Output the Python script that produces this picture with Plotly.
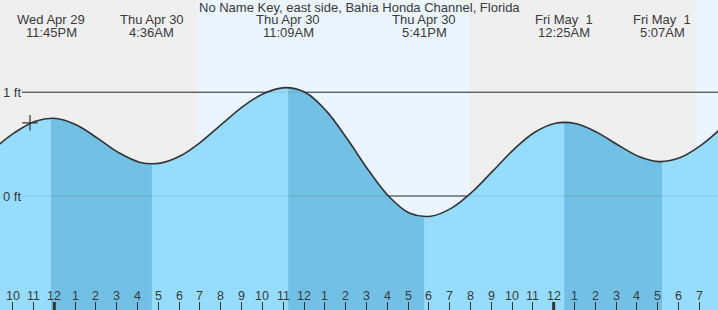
import plotly.graph_objects as go

# ---------------- data ----------------
TITLE = "No Name Key, east side, Bahia Honda Channel, Florida"

# hourly tide height (ft), hours relative to midnight Apr 30 (0 = 12AM Thu Apr 30)
HOURS = list(range(-3, 33))
HEIGHTS = [0.454, 0.61, 0.72,
           0.747, 0.682, 0.555, 0.418, 0.326, 0.317, 0.390, 0.528, 0.700, 0.866, 0.990, 1.044,
           0.994, 0.815, 0.546, 0.250, -0.007, -0.167, -0.195, -0.117, 0.041, 0.244, 0.450, 0.614,
           0.701, 0.696, 0.613, 0.491, 0.381, 0.331, 0.37, 0.49, 0.66]

# high / low tide events
EVENT_T = [-0.25, 4.60, 11.15, 17.683, 24.417, 29.117]
EVENT_H = [0.75, 0.31, 1.045, -0.20, 0.71, 0.33]
EVENT_DAY = ["Wed Apr 29", "Thu Apr 30", "Thu Apr 30", "Thu Apr 30", "Fri May\u00a0 1", "Fri May\u00a0 1"]
EVENT_TIME = ["11:45PM", "4:36AM", "11:09AM", "5:41PM", "12:25AM", "5:07AM"]
EVENT_TYPE = ["H", "L", "H", "L", "H", "L"]

# sunrise / sunset (hours)
SUN_T = [6.77, 19.84, 30.75]          # sunrise, sunset, sunrise
NOW_T, NOW_H = -1.26, 0.705           # current-time marker

HOUR_TICKS = list(range(-2, 32))
HOUR_LABELS = [str(((h % 24) % 12) or 12) for h in HOUR_TICKS]
Y_TICKS = [0, 1]
Y_LABELS = ["0 ft", "1 ft"]

# ---------------- style ----------------
W, H = 718, 310
X_RANGE = [-2.701, 31.808]
Y_RANGE = [-1.098, 1.888]
TICK_OFFSET = -0.09
BASE = -2.0
NIGHT = "#efefef"
DAY = "#ebf5ff"
LIGHT = "#96dcfd"
DARK = "#72c0e4"
INK = "#333333"
TEXT = "#3a3a3a"
FONT = "Liberation Sans, Arial, sans-serif"

fig = go.Figure()

# background day/night
edges = [X_RANGE[0]] + SUN_T + [X_RANGE[1]]
shapes = []
for i in range(len(edges) - 1):
    shapes.append(dict(type="rect", xref="x", yref="paper", x0=edges[i], x1=edges[i + 1],
                       y0=0, y1=1, fillcolor=NIGHT if i % 2 == 0 else DAY,
                       line_width=0, layer="below"))
# gridlines (dark, below fills) + faint overlay
for yv in Y_TICKS:
    shapes.append(dict(type="line", xref="paper", yref="y", x0=22 / W, x1=1, y0=yv, y1=yv,
                       line=dict(color=INK, width=1), layer="below"))
    shapes.append(dict(type="line", xref="paper", yref="y", x0=22 / W, x1=1, y0=yv, y1=yv,
                       line=dict(color="rgba(30,30,30,0.13)", width=1), layer="above"))
# midnight thick ticks
for h in HOUR_TICKS:
    if h % 24 == 0:
        shapes.append(dict(type="line", xref="x", yref="paper", x0=h + TICK_OFFSET, x1=h + TICK_OFFSET,
                           y0=0, y1=8 / H, line=dict(color=INK, width=3), layer="above"))

# light fill under whole curve
fig.add_trace(go.Scatter(x=HOURS, y=[BASE] * len(HOURS), mode="lines",
                         line=dict(width=0), hoverinfo="skip", showlegend=False))
fig.add_trace(go.Scatter(x=HOURS, y=HEIGHTS, mode="lines", line=dict(width=0, shape="spline"),
                         fill="tonexty", fillcolor=LIGHT, hoverinfo="skip", showlegend=False))

# dark fill for falling tide (high -> low)
for i in range(len(EVENT_T) - 1):
    if EVENT_TYPE[i] != "H":
        continue
    t0, t1 = EVENT_T[i], EVENT_T[i + 1]
    xs = [t0] + [t for t in HOURS if t0 < t < t1] + [t1]
    ys = [EVENT_H[i]] + [HEIGHTS[HOURS.index(t)] for t in HOURS if t0 < t < t1] + [EVENT_H[i + 1]]
    fig.add_trace(go.Scatter(x=xs, y=[BASE] * len(xs), mode="lines", line=dict(width=0),
                             hoverinfo="skip", showlegend=False))
    fig.add_trace(go.Scatter(x=xs, y=ys, mode="lines", line=dict(width=0, shape="spline"),
                             fill="tonexty", fillcolor=DARK, hoverinfo="skip", showlegend=False))

# curve line
fig.add_trace(go.Scatter(x=HOURS, y=HEIGHTS, mode="lines",
                         line=dict(color=INK, width=1.6, shape="spline"),
                         hoverinfo="skip", showlegend=False))
# now marker
fig.add_trace(go.Scatter(x=[NOW_T], y=[NOW_H], mode="markers",
                         marker=dict(symbol="cross-thin", size=11, line=dict(color=INK, width=1.2)),
                         hoverinfo="skip", showlegend=False))

annotations = []
annotations.append(dict(text=TITLE, xref="paper", yref="paper", x=0.5, y=1 - 7.5 / H,
                        showarrow=False, xanchor="center", yanchor="middle",
                        font=dict(family=FONT, size=13, color=TEXT)))
for t, d, tm in zip(EVENT_T, EVENT_DAY, EVENT_TIME):
    annotations.append(dict(text=d, xref="x", yref="paper", x=t, y=1 - 19.7 / H, showarrow=False,
                            xanchor="center", yanchor="middle", font=dict(family=FONT, size=13, color=TEXT)))
    annotations.append(dict(text=tm, xref="x", yref="paper", x=t, y=1 - 32 / H, showarrow=False,
                            xanchor="center", yanchor="middle", font=dict(family=FONT, size=13, color=TEXT)))
for yv, lab in zip(Y_TICKS, Y_LABELS):
    annotations.append(dict(text=lab, xref="paper", yref="y", x=1 / W, y=yv, showarrow=False,
                            xanchor="left", yanchor="middle", font=dict(family=FONT, size=13, color=TEXT)))
for h, lab in zip(HOUR_TICKS, HOUR_LABELS):
    annotations.append(dict(text=lab, xref="x", yref="paper", x=h + TICK_OFFSET, y=14 / H,
                            showarrow=False, xanchor="center", yanchor="middle",
                            font=dict(family=FONT, size=12.5, color=TEXT)))

fig.update_layout(
    width=W, height=H, margin=dict(l=0, r=0, t=0, b=0),
    paper_bgcolor=NIGHT, plot_bgcolor=NIGHT,
    shapes=shapes, annotations=annotations, showlegend=False,
    xaxis=dict(range=X_RANGE, showgrid=False, zeroline=False, showline=False,
               tickvals=[h + TICK_OFFSET for h in HOUR_TICKS], ticks="inside", ticklen=8,
               tickwidth=1, tickcolor=INK, showticklabels=False, fixedrange=True),
    yaxis=dict(range=Y_RANGE, showgrid=False, zeroline=False, showline=False,
               showticklabels=False, ticks="", fixedrange=True),
)
fig.write_html("out.html", config={"displayModeBar": False})
